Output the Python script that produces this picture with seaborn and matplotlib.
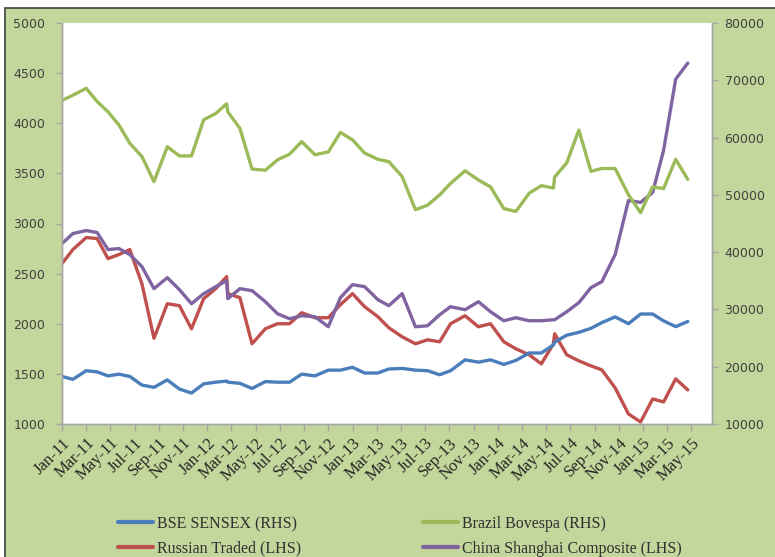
import pandas as pd
import seaborn as sns
import matplotlib.pyplot as plt
from matplotlib.patches import Rectangle

# month offsets from Jan-11
month_pos = [0.0, 0.9, 2.0, 2.9, 3.8, 4.7, 5.6, 6.6, 7.6, 8.7, 9.7, 10.7, 11.7, 12.7,
             13.6, 13.7,
             14.7, 15.7, 16.8, 17.8, 18.8, 19.8, 20.9, 22.0, 23.0, 24.0, 25.0, 26.1, 27.0,
             28.1, 29.2, 30.2, 31.2, 32.1, 33.3, 34.4, 35.4, 36.5, 37.5, 38.6, 39.6,
             40.6, 40.7,
             41.7, 42.7, 43.7, 44.6, 45.7, 46.8, 47.8, 48.8, 49.7, 50.7, 51.7]

sensex = [18300, 17800, 19300, 19100, 18400, 18700, 18300, 16800, 16400, 17700, 16100, 15400, 17000, 17300,
          17500, 17300,
          17100, 16200, 17400, 17300, 17300, 18700, 18400, 19400, 19400, 19900, 18900, 18900, 19600,
          19700, 19400, 19300, 18600, 19300, 21200, 20800, 21200, 20400, 21100, 22400, 22400,
          23800, 24300,
          25500, 26000, 26700, 27700, 28700, 27500, 29200, 29200, 28000, 27000, 27900]

bovespa = [66500, 67400, 68600, 66300, 64500, 62200, 59000, 56700, 52300, 58400, 56800, 56800, 63100, 64200,
           65900, 64500,
           61600, 54500, 54300, 56100, 57100, 59300, 57000, 57500, 60900, 59600, 57300, 56200, 55800,
           53200, 47400, 48200, 50000, 52000, 54200, 52600, 51400, 47600, 47100, 50300, 51600,
           51200, 53100,
           55600, 61300, 54100, 54600, 54600, 50000, 46900, 51400, 51100, 56200, 52700]

russia = [2600, 2740, 2860, 2850, 2650, 2690, 2740, 2400, 1855, 2200, 2180, 1950, 2250, 2350,
          2470, 2300,
          2260, 1800, 1950, 2000, 2000, 2110, 2060, 2060, 2190, 2300, 2170, 2070, 1960,
          1870, 1800, 1840, 1820, 2000, 2080, 1970, 2000, 1820, 1750, 1690, 1600,
          1800, 1900,
          1690, 1630, 1580, 1540, 1360, 1100, 1020, 1250, 1220, 1450, 1340]

shanghai = [2800, 2900, 2930, 2910, 2740, 2750, 2690, 2570, 2350, 2460, 2340, 2200, 2300, 2370,
            2430, 2250,
            2350, 2330, 2220, 2100, 2050, 2080, 2070, 1970, 2260, 2390, 2370, 2240, 2180,
            2300, 1970, 1980, 2090, 2170, 2140, 2220, 2120, 2030, 2060, 2030, 2030,
            2040, 2040,
            2120, 2210, 2360, 2420, 2690, 3230, 3210, 3310, 3730, 4440, 4600]

tick_labels = ["Jan-11", "Mar-11", "May-11", "Jul-11", "Sep-11", "Nov-11",
               "Jan-12", "Mar-12", "May-12", "Jul-12", "Sep-12", "Nov-12",
               "Jan-13", "Mar-13", "May-13", "Jul-13", "Sep-13", "Nov-13",
               "Jan-14", "Mar-14", "May-14", "Jul-14", "Sep-14", "Nov-14",
               "Jan-15", "Mar-15", "May-15"]

series_names = ["BSE SENSEX (RHS)", "Brazil Bovespa (RHS)",
                "Russian Traded (LHS)", "China Shanghai Composite (LHS)"]
colors = ["#4a7ebb", "#9bbb59", "#c0504d", "#8064a2"]

sns.set_style("white")
plt.rcParams['font.family'] = ['DejaVu Sans']

df = pd.DataFrame({"month": month_pos, "sensex": sensex, "bovespa": bovespa,
                   "russia": russia, "shanghai": shanghai})

fig = plt.figure(figsize=(7.75, 5.57), dpi=100, facecolor="white")
# green chart area with dark border
fig.patches.append(Rectangle((5 / 775, -0.01), 1.0, 1 - 8 / 557 + 0.01, transform=fig.transFigure,
                             facecolor="#c3d69b", edgecolor="#404040", lw=1.2, zorder=-10))

ax = fig.add_axes([62 / 775, 1 - 424 / 557, 650 / 775, 401 / 557])
ax.set_facecolor("white")
ax2 = ax.twinx()

lw = 2.4
sns.lineplot(data=df, x="month", y="russia", ax=ax, color=colors[2], lw=lw,
             estimator=None, sort=False, legend=False)
sns.lineplot(data=df, x="month", y="shanghai", ax=ax, color=colors[3], lw=lw,
             estimator=None, sort=False, legend=False)
sns.lineplot(data=df, x="month", y="sensex", ax=ax2, color=colors[0], lw=lw,
             estimator=None, sort=False, legend=False)
sns.lineplot(data=df, x="month", y="bovespa", ax=ax2, color=colors[1], lw=lw,
             estimator=None, sort=False, legend=False)

ax.set_ylim(1000, 5000)
ax2.set_ylim(10000, 80000)
ax.set_yticks(range(1000, 5001, 500))
ax2.set_yticks(range(10000, 80001, 10000))
ax.set_xlim(0, 53.7)
ax.set_xticks(range(0, 53, 2))
ax.set_xticklabels(tick_labels, rotation=45, ha="right", rotation_mode="anchor",
                   family=["Liberation Serif"], fontsize=12, color="#262626")
ax.set_xlabel("")
ax.set_ylabel("")
ax2.set_ylabel("")

for a in (ax, ax2):
    for side, sp in a.spines.items():
        sp.set_color("#a6a6a6")
        sp.set_linewidth(1.0)
    a.spines["top"].set_visible(False)

ax.tick_params(axis="y", direction="out", length=4, width=1, color="#a6a6a6",
               labelsize=9, labelcolor="#404040", pad=8, left=True)
ax2.tick_params(axis="y", direction="out", length=4, width=1, color="#a6a6a6",
                labelsize=9, labelcolor="#404040", pad=5, right=True)
ax.tick_params(axis="x", direction="out", length=5, width=1, color="#a6a6a6",
               pad=3, bottom=True)

handles = [plt.Line2D([], [], color=c, lw=3) for c in colors]
order = [0, 2, 1, 3]
fig.legend([handles[i] for i in order], [series_names[i] for i in order],
           loc="upper left", bbox_to_anchor=(118 / 775, 1 - 516 / 557), ncol=2,
           frameon=False, prop={"family": "Liberation Serif", "size": 11.5},
           handlelength=2.2, handletextpad=0.25, columnspacing=7.6,
           labelspacing=0.55, borderpad=0, borderaxespad=0, labelcolor="#303030")

fig.savefig("out.png", dpi=100, facecolor=fig.get_facecolor())
